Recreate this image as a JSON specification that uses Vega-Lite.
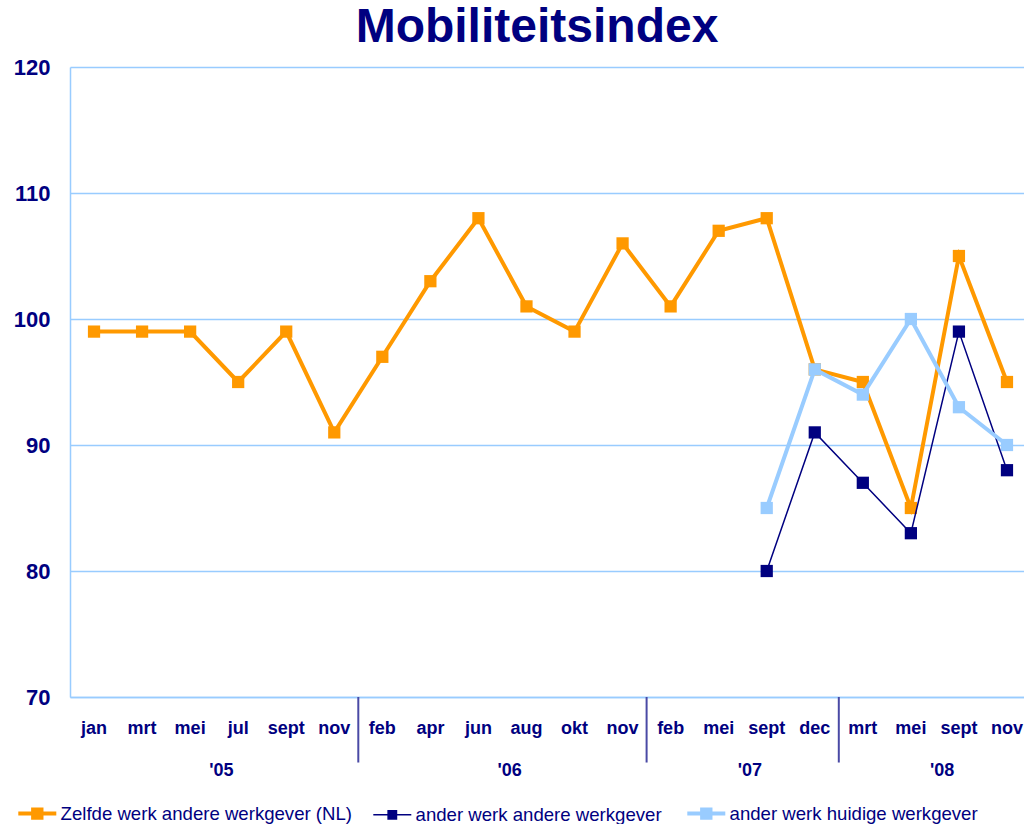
{
  "$schema": "https://vega.github.io/schema/vega-lite/v6.json",
  "width": 954,
  "height": 630,
  "autosize": {"type": "none"},
  "padding": {"left": 70, "top": 67, "right": 0, "bottom": 127},
  "background": "white",
  "title": {"text": "Mobiliteitsindex", "fontSize": 48, "font": "Liberation Sans", "fontWeight": "bold", "color": "#000080", "anchor": "middle", "frame": "group", "offset": 4, "dx": -10},
  "config": {"view": {"stroke": null}, "font": "Liberation Sans"},
  "data": {"values": [
    {"k": "jan '05", "s": "Zelfde werk andere werkgever (NL)", "v": 99},
    {"k": "mrt '05", "s": "Zelfde werk andere werkgever (NL)", "v": 99},
    {"k": "mei '05", "s": "Zelfde werk andere werkgever (NL)", "v": 99},
    {"k": "jul '05", "s": "Zelfde werk andere werkgever (NL)", "v": 95},
    {"k": "sept '05", "s": "Zelfde werk andere werkgever (NL)", "v": 99},
    {"k": "nov '05", "s": "Zelfde werk andere werkgever (NL)", "v": 91},
    {"k": "feb '06", "s": "Zelfde werk andere werkgever (NL)", "v": 97},
    {"k": "apr '06", "s": "Zelfde werk andere werkgever (NL)", "v": 103},
    {"k": "jun '06", "s": "Zelfde werk andere werkgever (NL)", "v": 108},
    {"k": "aug '06", "s": "Zelfde werk andere werkgever (NL)", "v": 101},
    {"k": "okt '06", "s": "Zelfde werk andere werkgever (NL)", "v": 99},
    {"k": "nov '06", "s": "Zelfde werk andere werkgever (NL)", "v": 106},
    {"k": "feb '07", "s": "Zelfde werk andere werkgever (NL)", "v": 101},
    {"k": "mei '07", "s": "Zelfde werk andere werkgever (NL)", "v": 107},
    {"k": "sept '07", "s": "Zelfde werk andere werkgever (NL)", "v": 108},
    {"k": "dec '07", "s": "Zelfde werk andere werkgever (NL)", "v": 96},
    {"k": "mrt '08", "s": "Zelfde werk andere werkgever (NL)", "v": 95},
    {"k": "mei '08", "s": "Zelfde werk andere werkgever (NL)", "v": 85},
    {"k": "sept '08", "s": "Zelfde werk andere werkgever (NL)", "v": 105},
    {"k": "nov '08", "s": "Zelfde werk andere werkgever (NL)", "v": 95},
    {"k": "sept '07", "s": "ander werk andere werkgever", "v": 80},
    {"k": "dec '07", "s": "ander werk andere werkgever", "v": 91},
    {"k": "mrt '08", "s": "ander werk andere werkgever", "v": 87},
    {"k": "mei '08", "s": "ander werk andere werkgever", "v": 83},
    {"k": "sept '08", "s": "ander werk andere werkgever", "v": 99},
    {"k": "nov '08", "s": "ander werk andere werkgever", "v": 88},
    {"k": "sept '07", "s": "ander werk huidige werkgever", "v": 85},
    {"k": "dec '07", "s": "ander werk huidige werkgever", "v": 96},
    {"k": "mrt '08", "s": "ander werk huidige werkgever", "v": 94},
    {"k": "mei '08", "s": "ander werk huidige werkgever", "v": 100},
    {"k": "sept '08", "s": "ander werk huidige werkgever", "v": 93},
    {"k": "nov '08", "s": "ander werk huidige werkgever", "v": 90}
  ]},
  "layer": [
    {
      "transform": [{"filter": "datum.s === 'Zelfde werk andere werkgever (NL)'"}],
      "mark": {"type": "line", "strokeWidth": 4, "point": {"shape": "square", "filled": true, "size": 150, "opacity": 1}},
      "encoding": {
        "x": {"field": "k", "type": "ordinal",
          "scale": {"type": "band", "domain": ["jan '05","mrt '05","mei '05","jul '05","sept '05","nov '05","feb '06","apr '06","jun '06","aug '06","okt '06","nov '06","feb '07","mei '07","sept '07","dec '07","mrt '08","mei '08","sept '08","nov '08"], "range": [0, 961], "paddingInner": 0, "paddingOuter": 0},
          "axis": {"title": null, "labelExpr": "split(datum.value, ' ')[0]", "labelFontSize": 18, "labelFontWeight": "bold", "labelColor": "#000080", "labelAngle": 0, "ticks": false, "domainColor": "#99CCFF", "domainWidth": 1.5, "labelPadding": 31, "labelBaseline": "middle", "labelOverlap": false, "labelFlush": false, "grid": false, "labelFont": "Liberation Sans"}},
        "y": {"field": "v", "type": "quantitative",
          "scale": {"domain": [70, 120], "nice": false, "zero": false},
          "axis": {"values": [70, 80, 90, 100, 110, 120], "title": null, "labelFontSize": 22, "labelFontWeight": "bold", "labelColor": "#000080", "labelPadding": 20, "ticks": false, "domainColor": "#99CCFF", "domainWidth": 1.5, "grid": true, "gridColor": "#99CCFF", "gridWidth": 1.5, "gridOpacity": 1, "labelFont": "Liberation Sans"}},
        "color": {"field": "s", "type": "nominal",
          "scale": {"domain": ["Zelfde werk andere werkgever (NL)", "ander werk andere werkgever", "ander werk huidige werkgever"], "range": ["#FF9900", "#000080", "#99CCFF"]},
          "legend": {"title": null, "orient": "none", "legendX": -42, "legendY": 737, "direction": "horizontal", "columns": 3, "symbolType": "M-1,0H1M-0.22,-0.22H0.22V0.22H-0.22Z", "symbolSize": 1444, "symbolStrokeWidth": 3, "labelFontSize": 18.6, "labelLimit": 0, "labelColor": "#000080", "labelFont": "Liberation Sans", "columnPadding": 17, "labelOffset": 14,
            "encode": {"symbols": {"update": {"fill": {"scale": "color", "field": "value"}, "stroke": {"scale": "color", "field": "value"}, "strokeWidth": {"signal": "datum.value === 'ander werk andere werkgever' ? 1.5 : 4"}}}}}}
      }
    },
    {
      "transform": [{"filter": "datum.s === 'ander werk andere werkgever'"}],
      "mark": {"type": "line", "strokeWidth": 1.5, "point": {"shape": "square", "filled": true, "size": 150, "opacity": 1}},
      "encoding": {
        "x": {"field": "k", "type": "ordinal",
          "scale": {"type": "band", "domain": ["jan '05","mrt '05","mei '05","jul '05","sept '05","nov '05","feb '06","apr '06","jun '06","aug '06","okt '06","nov '06","feb '07","mei '07","sept '07","dec '07","mrt '08","mei '08","sept '08","nov '08"], "range": [0, 961], "paddingInner": 0, "paddingOuter": 0}},
        "y": {"field": "v", "type": "quantitative", "scale": {"domain": [70, 120], "nice": false, "zero": false}},
        "color": {"field": "s", "type": "nominal"}
      }
    },
    {
      "transform": [{"filter": "datum.s === 'ander werk huidige werkgever'"}],
      "mark": {"type": "line", "strokeWidth": 4, "point": {"shape": "square", "filled": true, "size": 150, "opacity": 1}},
      "encoding": {
        "x": {"field": "k", "type": "ordinal",
          "scale": {"type": "band", "domain": ["jan '05","mrt '05","mei '05","jul '05","sept '05","nov '05","feb '06","apr '06","jun '06","aug '06","okt '06","nov '06","feb '07","mei '07","sept '07","dec '07","mrt '08","mei '08","sept '08","nov '08"], "range": [0, 961], "paddingInner": 0, "paddingOuter": 0}},
        "y": {"field": "v", "type": "quantitative", "scale": {"domain": [70, 120], "nice": false, "zero": false}},
        "color": {"field": "s", "type": "nominal"}
      }
    },
    {
      "data": {"values": [{"k": "feb '06"}, {"k": "feb '07"}, {"k": "mrt '08"}]},
      "mark": {"type": "rule", "color": "#4a4aa5", "strokeWidth": 2},
      "encoding": {
        "x": {"field": "k", "type": "ordinal", "bandPosition": 0,
          "scale": {"type": "band", "domain": ["jan '05","mrt '05","mei '05","jul '05","sept '05","nov '05","feb '06","apr '06","jun '06","aug '06","okt '06","nov '06","feb '07","mei '07","sept '07","dec '07","mrt '08","mei '08","sept '08","nov '08"], "range": [0, 961], "paddingInner": 0, "paddingOuter": 0}},
        "y": {"datum": 70},
        "y2": {"datum": 64.8}
      }
    },
    {
      "data": {"values": [{"k": "jul '05", "t": "'05"}, {"k": "aug '06", "t": "'06"}, {"k": "sept '07", "t": "'07"}, {"k": "sept '08", "t": "'08"}]},
      "mark": {"type": "text", "fontSize": 18, "fontWeight": "bold", "color": "#000080", "baseline": "middle", "font": "Liberation Sans"},
      "encoding": {
        "x": {"field": "k", "type": "ordinal", "bandPosition": 0.15,
          "scale": {"type": "band", "domain": ["jan '05","mrt '05","mei '05","jul '05","sept '05","nov '05","feb '06","apr '06","jun '06","aug '06","okt '06","nov '06","feb '07","mei '07","sept '07","dec '07","mrt '08","mei '08","sept '08","nov '08"], "range": [0, 961], "paddingInner": 0, "paddingOuter": 0}},
        "y": {"datum": 64.1},
        "text": {"field": "t"}
      }
    }
  ]
}
